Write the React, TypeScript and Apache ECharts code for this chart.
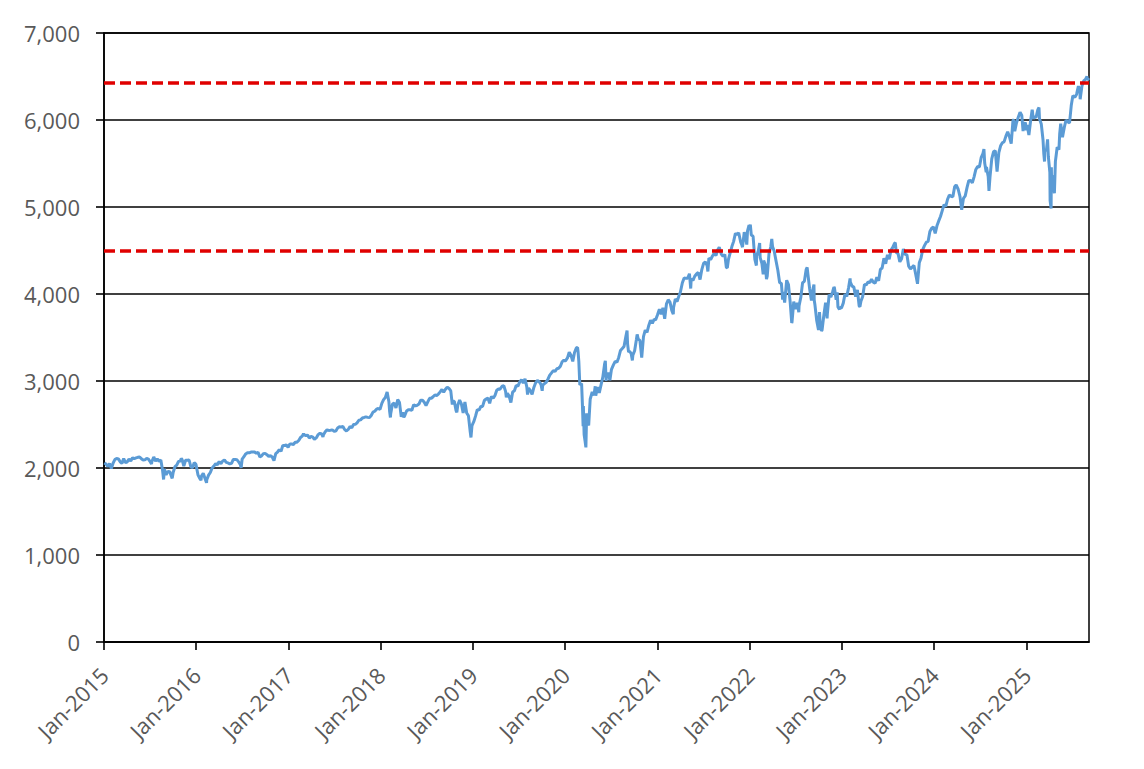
import React, { useEffect, useRef } from "react";
import * as echarts from "echarts";

// S&P 500 style index closes: [MM-DD, close]
const y2015: [string, number][] = [["01-02",2058],["01-09",2045],["01-16",2019],["01-23",2051],["01-30",1995],["02-06",2055],["02-13",2097],["02-20",2110],["02-27",2105],["03-06",2071],["03-13",2053],["03-20",2108],["03-27",2061],["04-02",2067],["04-10",2102],["04-17",2081],["04-24",2117],["05-01",2108],["05-08",2116],["05-15",2123],["05-22",2126],["05-29",2107],["06-05",2092],["06-12",2094],["06-19",2110],["06-26",2102],["07-02",2077],["07-08",2047],["07-10",2077],["07-17",2127],["07-24",2079],["07-31",2104],["08-07",2078],["08-14",2092],["08-21",1971],["08-25",1868],["08-28",1989],["09-04",1921],["09-11",1961],["09-18",1958],["09-28",1881],["10-02",1951],["10-09",2015],["10-16",2033],["10-23",2075],["10-30",2079],["11-03",2109],["11-06",2099],["11-13",2023],["11-20",2089],["11-27",2090],["12-04",2092],["12-11",2012],["12-18",2006],["12-24",2061],["12-31",2044]];
const y2016: [string, number][] = [["01-08",1922],["01-15",1880],["01-20",1859],["01-22",1907],["01-29",1940],["02-05",1880],["02-11",1829],["02-12",1865],["02-19",1918],["02-26",1948],["03-04",2000],["03-11",2022],["03-18",2050],["03-24",2036],["04-01",2073],["04-08",2048],["04-15",2081],["04-22",2092],["04-29",2065],["05-06",2058],["05-13",2047],["05-20",2053],["05-27",2099],["06-03",2099],["06-10",2096],["06-17",2071],["06-24",2038],["06-27",2001],["07-01",2103],["07-08",2130],["07-15",2162],["07-22",2175],["07-29",2174],["08-05",2183],["08-12",2184],["08-19",2184],["08-26",2169],["09-02",2180],["09-09",2128],["09-16",2139],["09-23",2165],["09-30",2168],["10-07",2153],["10-14",2133],["10-21",2141],["10-28",2126],["11-04",2085],["11-11",2164],["11-18",2182],["11-25",2213],["12-02",2192],["12-09",2260],["12-16",2258],["12-23",2264],["12-30",2239]];
const y2017: [string, number][] = [["01-06",2277],["01-13",2275],["01-20",2271],["01-27",2295],["02-03",2297],["02-10",2316],["02-17",2351],["02-24",2367],["03-01",2396],["03-03",2383],["03-10",2373],["03-17",2378],["03-24",2344],["03-31",2363],["04-07",2355],["04-13",2329],["04-21",2349],["04-28",2384],["05-05",2399],["05-12",2391],["05-17",2357],["05-19",2382],["05-26",2416],["06-02",2439],["06-09",2432],["06-16",2433],["06-23",2438],["06-30",2423],["07-07",2425],["07-14",2459],["07-21",2473],["07-28",2472],["08-04",2477],["08-11",2441],["08-18",2426],["08-25",2443],["09-01",2477],["09-08",2461],["09-15",2500],["09-22",2502],["09-29",2519],["10-06",2549],["10-13",2553],["10-20",2575],["10-27",2581],["11-03",2588],["11-10",2582],["11-17",2579],["11-24",2603],["12-01",2642],["12-08",2652],["12-15",2676],["12-22",2684],["12-29",2674]];
const y2018: [string, number][] = [["01-05",2743],["01-12",2786],["01-19",2810],["01-26",2873],["02-02",2762],["02-05",2649],["02-08",2581],["02-09",2620],["02-16",2732],["02-23",2747],["03-02",2691],["03-09",2786],["03-16",2752],["03-23",2588],["03-29",2641],["04-02",2582],["04-06",2604],["04-13",2656],["04-20",2670],["04-27",2670],["05-04",2663],["05-11",2728],["05-18",2713],["05-25",2721],["06-01",2735],["06-08",2779],["06-15",2780],["06-22",2755],["06-29",2718],["07-06",2760],["07-13",2801],["07-20",2802],["07-27",2819],["08-03",2840],["08-10",2833],["08-17",2850],["08-24",2875],["08-31",2902],["09-07",2872],["09-14",2905],["09-21",2930],["09-28",2914],["10-05",2886],["10-11",2728],["10-12",2767],["10-19",2768],["10-26",2659],["10-29",2641],["11-02",2723],["11-09",2781],["11-16",2736],["11-23",2633],["11-30",2760],["12-07",2633],["12-14",2600],["12-21",2417],["12-24",2351],["12-28",2486],["12-31",2507]];
const y2019: [string, number][] = [["01-04",2532],["01-11",2596],["01-18",2671],["01-25",2665],["02-01",2707],["02-08",2708],["02-15",2776],["02-22",2793],["03-01",2804],["03-08",2743],["03-15",2822],["03-22",2801],["03-29",2834],["04-05",2893],["04-12",2907],["04-18",2905],["04-26",2940],["05-03",2946],["05-10",2881],["05-13",2812],["05-17",2860],["05-24",2826],["05-31",2752],["06-07",2873],["06-14",2887],["06-21",2950],["06-28",2942],["07-05",2990],["07-12",3014],["07-19",2977],["07-26",3026],["08-02",2932],["08-05",2845],["08-09",2919],["08-16",2889],["08-23",2847],["08-30",2926],["09-06",2979],["09-13",3007],["09-20",2992],["09-27",2962],["10-02",2888],["10-04",2952],["10-11",2970],["10-18",2986],["10-25",3023],["11-01",3067],["11-08",3093],["11-15",3120],["11-22",3110],["11-29",3141],["12-06",3146],["12-13",3169],["12-20",3221],["12-27",3240],["12-31",3231]];
const y2020: [string, number][] = [["01-03",3235],["01-10",3265],["01-17",3330],["01-24",3295],["01-31",3226],["02-07",3328],["02-14",3380],["02-19",3386],["02-21",3338],["02-24",3226],["02-28",2954],["03-06",2972],["03-09",2747],["03-12",2481],["03-13",2711],["03-16",2386],["03-20",2305],["03-23",2237],["03-26",2630],["03-27",2541],["04-03",2489],["04-09",2790],["04-17",2875],["04-24",2837],["04-29",2940],["05-01",2831],["05-08",2930],["05-15",2864],["05-22",2955],["05-29",3044],["06-05",3194],["06-08",3232],["06-11",3002],["06-12",3041],["06-19",3098],["06-26",3009],["07-02",3130],["07-10",3185],["07-17",3225],["07-24",3216],["07-31",3271],["08-07",3351],["08-14",3373],["08-21",3397],["08-28",3508],["09-02",3580],["09-04",3427],["09-08",3332],["09-11",3341],["09-18",3319],["09-23",3237],["09-25",3298],["10-02",3348],["10-09",3477],["10-12",3535],["10-16",3484],["10-23",3465],["10-30",3270],["11-06",3510],["11-13",3585],["11-20",3558],["11-27",3638],["12-04",3699],["12-11",3663],["12-18",3709],["12-24",3703],["12-31",3756]];
const y2021: [string, number][] = [["01-08",3825],["01-15",3768],["01-22",3841],["01-29",3714],["02-05",3887],["02-12",3934],["02-19",3907],["02-26",3811],["03-04",3768],["03-05",3842],["03-12",3943],["03-19",3913],["03-26",3975],["04-01",4020],["04-09",4129],["04-16",4185],["04-23",4180],["04-30",4181],["05-07",4233],["05-12",4063],["05-14",4174],["05-21",4156],["05-28",4204],["06-04",4230],["06-11",4247],["06-18",4166],["06-25",4281],["07-02",4352],["07-09",4370],["07-16",4327],["07-19",4259],["07-23",4412],["07-30",4395],["08-06",4437],["08-13",4468],["08-20",4442],["08-27",4509],["09-02",4537],["09-10",4459],["09-17",4433],["09-24",4455],["09-30",4308],["10-04",4300],["10-08",4391],["10-15",4471],["10-22",4545],["10-29",4605],["11-05",4697],["11-12",4682],["11-18",4704],["11-26",4595],["11-30",4567],["12-03",4538],["12-10",4712],["12-17",4620],["12-20",4568],["12-23",4725],["12-29",4793],["12-31",4766]];
const y2022: [string, number][] = [["01-03",4797],["01-07",4677],["01-14",4663],["01-21",4398],["01-27",4327],["01-28",4432],["02-04",4501],["02-09",4587],["02-11",4419],["02-18",4349],["02-23",4226],["02-24",4289],["02-25",4385],["03-04",4329],["03-08",4170],["03-11",4204],["03-18",4463],["03-25",4543],["03-29",4632],["04-01",4546],["04-08",4488],["04-14",4393],["04-22",4272],["04-29",4132],["05-06",4123],["05-11",3935],["05-13",4024],["05-19",3901],["05-20",3901],["05-27",4158],["06-03",4109],["06-10",3901],["06-16",3667],["06-17",3675],["06-24",3912],["07-01",3825],["07-08",3899],["07-14",3790],["07-15",3863],["07-22",3962],["07-29",4130],["08-05",4145],["08-12",4280],["08-16",4305],["08-19",4228],["08-26",4058],["09-02",3924],["09-09",4068],["09-12",4110],["09-13",3932],["09-16",3873],["09-23",3693],["09-30",3586],["10-04",3791],["10-07",3640],["10-12",3577],["10-14",3583],["10-21",3753],["10-28",3901],["11-03",3720],["11-04",3771],["11-10",3956],["11-11",3993],["11-18",3965],["11-25",4026],["11-30",4080],["12-02",4072],["12-09",3934],["12-13",4019],["12-16",3852],["12-22",3822],["12-23",3845],["12-30",3840]];
const y2023: [string, number][] = [["01-06",3895],["01-13",3999],["01-20",3973],["01-27",4071],["02-02",4179],["02-03",4136],["02-10",4090],["02-17",4079],["02-24",3970],["03-03",4046],["03-10",3862],["03-13",3855],["03-17",3917],["03-24",3971],["03-31",4109],["04-07",4105],["04-14",4138],["04-21",4133],["04-28",4169],["05-05",4136],["05-12",4124],["05-19",4192],["05-26",4151],["06-02",4282],["06-09",4299],["06-16",4410],["06-23",4348],["06-30",4450],["07-07",4399],["07-14",4505],["07-21",4536],["07-28",4582],["07-31",4589],["08-04",4478],["08-11",4464],["08-18",4370],["08-25",4406],["09-01",4516],["09-08",4457],["09-15",4450],["09-22",4320],["09-29",4288],["10-06",4309],["10-13",4328],["10-20",4224],["10-27",4117],["11-03",4358],["11-10",4415],["11-17",4514],["11-24",4559],["12-01",4595],["12-08",4604],["12-15",4719],["12-22",4755],["12-29",4770]];
const y2024: [string, number][] = [["01-05",4697],["01-12",4784],["01-19",4840],["01-26",4891],["02-02",4959],["02-09",5027],["02-16",5006],["02-23",5089],["03-01",5137],["03-08",5124],["03-15",5117],["03-22",5234],["03-28",5254],["04-05",5204],["04-12",5123],["04-19",4967],["04-26",5100],["05-03",5128],["05-10",5223],["05-17",5303],["05-24",5305],["05-31",5278],["06-07",5347],["06-14",5432],["06-21",5465],["06-28",5460],["07-05",5567],["07-12",5615],["07-16",5667],["07-19",5505],["07-25",5399],["07-26",5459],["08-02",5347],["08-05",5186],["08-09",5344],["08-16",5554],["08-23",5634],["08-30",5648],["09-06",5408],["09-13",5626],["09-20",5703],["09-27",5738],["10-04",5751],["10-11",5815],["10-18",5864],["10-25",5808],["11-01",5729],["11-08",5996],["11-11",6001],["11-15",5870],["11-22",5969],["11-29",6032],["12-06",6090],["12-13",6051],["12-18",5872],["12-20",5931],["12-27",5971],["12-31",5882]];
const y2025: [string, number][] = [["01-03",5942],["01-10",5827],["01-17",5997],["01-23",6119],["01-24",6101],["01-27",6012],["01-31",6041],["02-07",6026],["02-14",6115],["02-19",6144],["02-21",6013],["02-28",5955],["03-07",5770],["03-10",5615],["03-13",5522],["03-14",5639],["03-21",5668],["03-25",5777],["03-28",5581],["04-03",5397],["04-04",5074],["04-08",4983],["04-09",5457],["04-10",5268],["04-11",5363],["04-17",5283],["04-21",5158],["04-25",5525],["05-02",5687],["05-09",5660],["05-12",5844],["05-16",5958],["05-23",5802],["05-30",5912],["06-06",6000],["06-13",5977],["06-20",5968],["06-27",6173],["07-03",6279],["07-11",6260],["07-18",6297],["07-25",6389],["07-31",6339],["08-01",6238],["08-08",6389],["08-15",6450],["08-22",6467],["08-28",6502],["08-29",6460],["09-05",6482]];

const yearly: [number, [string, number][]][] = [
  [2015, y2015], [2016, y2016], [2017, y2017], [2018, y2018], [2019, y2019], [2020, y2020],
  [2021, y2021], [2022, y2022], [2023, y2023], [2024, y2024], [2025, y2025],
];

const tickYears = [2015, 2016, 2017, 2018, 2019, 2020, 2021, 2022, 2023, 2024, 2025];
const refLevels = [6430, 4500];
const axisStart = "2015-01-01";
const axisEnd = "2025-09-05";
const months = ["Jan","Feb","Mar","Apr","May","Jun","Jul","Aug","Sep","Oct","Nov","Dec"];

const ts = (s: string) => {
  const [y, m, d] = s.split("-").map(Number);
  return Date.UTC(y, m - 1, d);
};

export default function App() {
  const ref = useRef<HTMLDivElement>(null);
  useEffect(() => {
    if (!ref.current) return;
    const chart = echarts.init(ref.current, null, { renderer: "svg" });
    const data: [number, number][] = [];
    yearly.forEach(([yr, arr]) => arr.forEach(([md, v]) => data.push([ts(`${yr}-${md}`), v])));
    const ticks = tickYears.map((y) => Date.UTC(y, 0, 1));
    const font = "'Open Sans', 'Noto Sans', sans-serif";
    chart.setOption({
      animation: false,
      backgroundColor: "#ffffff",
      grid: { left: 96, top: 25, right: 47, bottom: 119, show: true, borderColor: "#000", borderWidth: 1.5, containLabel: false },
      xAxis: {
        type: "value",
        min: ts(axisStart),
        max: ts(axisEnd),
        splitLine: { show: false },
        axisLine: { show: true, lineStyle: { color: "#000", width: 1.6 } },
        axisTick: { show: true, customValues: ticks, length: 8, lineStyle: { color: "#000", width: 1.6 } },
        axisLabel: {
          customValues: ticks,
          rotate: 45,
          margin: 29,
          color: "#595959",
          fontSize: 22,
          fontFamily: font,
          formatter: (v: number) => {
            const d = new Date(v);
            return `${months[d.getUTCMonth()]}-${d.getUTCFullYear()}`;
          },
        },
      },
      yAxis: {
        type: "value",
        min: 0,
        max: 7000,
        interval: 1000,
        axisLine: { show: true, lineStyle: { color: "#000", width: 1.6 } },
        axisTick: { show: true, inside: false, length: 8, lineStyle: { color: "#000", width: 1.6 } },
        splitLine: { show: true, lineStyle: { color: "#000", width: 1.6 } },
        axisLabel: {
          margin: 24,
          color: "#595959",
          fontSize: 22,
          fontFamily: font,
          formatter: (v: number) => v.toLocaleString("en-US"),
        },
      },
      series: [
        {
          type: "line",
          data,
          showSymbol: false,
          symbol: "none",
          lineStyle: { color: "#5B9BD5", width: 3 },
          itemStyle: { color: "#5B9BD5" },
          markLine: {
            silent: true,
            symbol: ["none", "none"],
            label: { show: false },
            lineStyle: { color: "#E00000", type: [11, 5], width: 3.5 },
            data: refLevels.map((v) => ({ yAxis: v })),
          },
        },
      ],
    });
    return () => chart.dispose();
  }, []);
  return <div ref={ref} style={{ width: 1128, height: 753 }} />;
}
